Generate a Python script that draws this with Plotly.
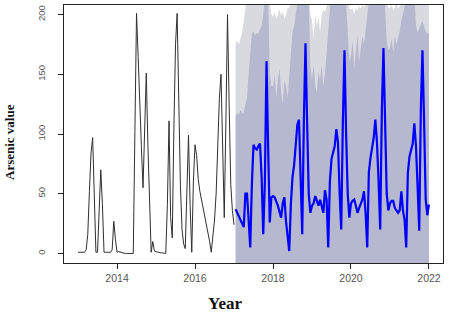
import plotly.graph_objects as go

# ---- data (semi-monthly series, frequency 24 per year) ----
freq = 24
hist_start = 2013.0
hist_values = [
    # 2013
    1, 1, 1, 1, 1, 3, 16, 52, 84, 97, 40, 1, 1, 35, 70, 41, 1, 1, 1, 1, 1, 3, 27, 12,
    # 2014
    1, 1.5, 1, 0.5, 0, 0, 0, 0, 0, 0, 0, 102, 201, 165, 120, 89, 55, 102, 151, 91, 41, 1, 10, 2,
    # 2015
    1.5, 1, 1, 0.5, 0.5, 0, 0, 41, 111, 30, 13, 105, 175, 201, 125, 58, 20, 8, 4, 60, 99, 40, 1, 60,
    # 2016
    91, 82, 62, 52, 45, 38, 32, 26, 20, 10, 1, 12, 28, 50, 90, 130, 150, 100, 30, 110, 200, 125, 58, 36,
    # 2017.0
    24,
]

fc_start = 2017.0 + 1 / 24
fc_mean = [
    # 2017
    37, 34, 30, 27, 24, 22, 50, 50, 28, 5, 58, 91, 88, 87, 90, 92, 64, 16, 60, 161, 90, 26, 47,
    # 2018
    48, 47, 44, 40, 35, 30, 42, 47, 27, 14, 2, 41, 64, 74, 95, 108, 112, 60, 16, 110, 176, 110, 50, 34,
    # 2019
    40, 42, 48, 44, 40, 45, 38, 34, 53, 45, 5, 60, 79, 85, 90, 104, 93, 51, 20, 110, 170, 100, 50, 30,
    # 2020
    42, 44, 45, 40, 34, 38, 42, 45, 52, 34, 5, 68, 80, 88, 97, 112, 93, 60, 20, 120, 172, 110, 50, 36,
    # 2021
    42, 44, 44, 38, 36, 34, 36, 52, 36, 28, 5, 67, 81, 86, 92, 109, 90, 56, 19, 120, 170, 110, 45, 32,
    # 2022.0
    41,
]
fc_upper80 = [
    115, 118, 116, 120, 118, 117, 125, 130, 150, 170, 184, 186, 182, 185, 184, 188, 190, 200, 215, 230, 215, 150, 140,
    140, 150, 130, 145, 155, 135, 125, 145, 140, 130, 150, 165, 185, 190, 200, 212, 225, 230, 225, 240, 250, 230, 215, 155,
    145, 158, 140, 135, 152, 145, 158, 140, 150, 168, 190, 212, 220, 225, 230, 235, 228, 222, 220, 235, 250, 210, 180, 160,
    165, 178, 155, 172, 182, 160, 172, 182, 175, 188, 200, 212, 222, 228, 232, 235, 230, 225, 222, 238, 250, 205, 178, 170,
    172, 180, 168, 182, 175, 180, 186, 195, 200, 205, 212, 220, 225, 230, 228, 222, 190, 185, 188, 192, 195, 190, 186, 184,
    185,
]
fc_upper95 = [
    176, 178, 175, 180, 185, 195, 205, 225, 230, 235, 240, 240, 238, 240, 242, 238, 235, 235, 240, 250, 240, 210, 200,
    198, 202, 196, 200, 204, 199, 203, 197, 200, 205, 206, 210, 215, 220, 225, 235, 245, 250, 245, 255, 265, 250, 225, 200,
    195, 180, 200, 190, 198, 185, 200, 204, 202, 206, 212, 225, 235, 240, 245, 250, 245, 240, 240, 255, 265, 245, 215, 205,
    204, 205, 200, 206, 203, 207, 205, 208, 206, 209, 212, 225, 235, 240, 245, 250, 245, 240, 240, 255, 265, 245, 210, 206,
    205, 208, 203, 206, 210, 205, 207, 212, 215, 222, 230, 240, 245, 250, 250, 245, 235, 225, 225, 235, 240, 230, 222, 215,
    212,
]
low_years = [2017.0 + 1 / 24, 2018, 2019, 2020, 2021, 2022]
fc_lower80 = [-40, -60, -70, -80, -85, -90]
fc_lower95 = [-70, -100, -115, -125, -135, -140]

x_ticks = [2014, 2016, 2018, 2020, 2022]
y_ticks = [0, 50, 100, 150, 200]

# ---- build time axes ----
hist_t = [hist_start + i / freq for i in range(len(hist_values))]
fc_t = [fc_start + i / freq for i in range(len(fc_mean))]

LIGHT = "#D9D9E0"
DARK = "#B5B8CE"

fig = go.Figure()
fig.add_trace(go.Scatter(x=low_years, y=fc_lower95, mode="lines", line=dict(width=0),
                         hoverinfo="skip", showlegend=False))
fig.add_trace(go.Scatter(x=fc_t, y=fc_upper95, mode="lines", line=dict(width=0),
                         fill="tonexty", fillcolor=LIGHT, hoverinfo="skip", showlegend=False))
fig.add_trace(go.Scatter(x=low_years, y=fc_lower80, mode="lines", line=dict(width=0),
                         hoverinfo="skip", showlegend=False))
fig.add_trace(go.Scatter(x=fc_t, y=fc_upper80, mode="lines", line=dict(width=0),
                         fill="tonexty", fillcolor=DARK, hoverinfo="skip", showlegend=False))
fig.add_trace(go.Scatter(x=hist_t, y=hist_values, mode="lines",
                         line=dict(color="#303030", width=1), showlegend=False))
fig.add_trace(go.Scatter(x=fc_t, y=fc_mean, mode="lines",
                         line=dict(color="#0000FF", width=2.2), showlegend=False))

fig.update_layout(
    width=449, height=313,
    margin=dict(l=64, r=6, t=5, b=50),
    paper_bgcolor="white", plot_bgcolor="white",
    font=dict(family="Liberation Sans, Arial, sans-serif", color="#555"),
    showlegend=False,
)
fig.update_xaxes(
    range=[2012.64, 2022.36], tickvals=x_ticks, ticktext=[str(v) for v in x_ticks],
    showgrid=False, zeroline=False, showline=True, mirror=True, linecolor="#222", linewidth=1,
    ticks="outside", ticklen=5, tickcolor="#222", tickfont=dict(size=10.5, color="#555"),
)
fig.update_yaxes(
    range=[-8, 208], tickvals=y_ticks, ticktext=[str(v) for v in y_ticks],
    showgrid=False, zeroline=False, showline=True, mirror=True, linecolor="#222", linewidth=1,
    ticks="outside", ticklen=5, tickcolor="#222", tickangle=-90, ticklabelstandoff=9,
    tickfont=dict(size=9.5, color="#555"),
)
fig.add_annotation(text="<b>Arsenic value</b>", xref="paper", yref="paper", x=0, y=0.5,
                   xshift=-55, yshift=-8, textangle=-90, showarrow=False,
                   xanchor="center", yanchor="middle",
                   font=dict(family="Liberation Serif, Times New Roman, serif", size=13, color="#111"))
fig.add_annotation(text="<b>Year</b>", xref="paper", yref="paper", x=(225 - 64) / 379, y=0,
                   yshift=-40, showarrow=False, xanchor="center", yanchor="middle",
                   font=dict(family="Liberation Serif, Times New Roman, serif", size=17, color="#111"))

fig.write_html("out.html", config={"displayModeBar": False})

# remove default page margin so the figure sits at the window's top-left corner
with open("out.html", "r", encoding="utf-8") as f:
    html = f.read()
html = html.replace("<head>", "<head><style>html,body{margin:0;padding:0;overflow:hidden;}</style>", 1)
with open("out.html", "w", encoding="utf-8") as f:
    f.write(html)
